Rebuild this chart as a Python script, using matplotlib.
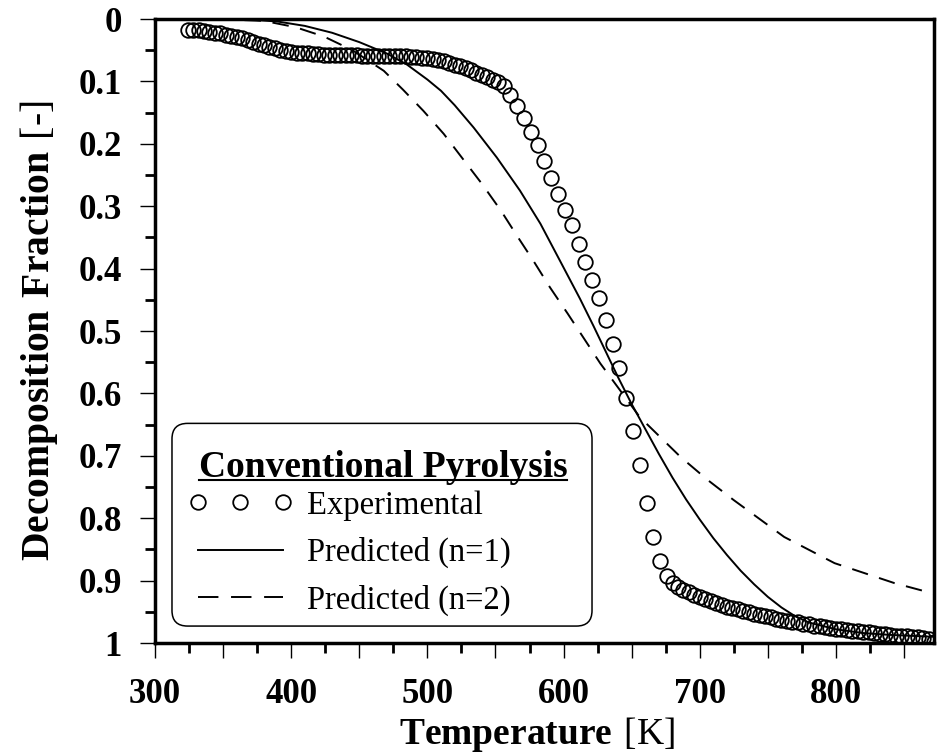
import numpy as np
import matplotlib
matplotlib.use("Agg")
import matplotlib.pyplot as plt
from matplotlib.ticker import MultipleLocator, FuncFormatter
from matplotlib.lines import Line2D
from matplotlib.patches import FancyBboxPatch
from matplotlib.legend_handler import HandlerLine2D

plt.rcParams['font.family'] = 'Liberation Serif'
plt.rcParams['mathtext.fontset'] = 'custom'
plt.rcParams['mathtext.rm'] = 'Liberation Serif'
plt.rcParams['mathtext.bf'] = 'Liberation Serif:bold'

# Experimental TGA points (temperature in K, decomposition fraction)
T_exp = [324, 328, 332, 336, 340, 344, 348, 352, 356, 360, 364, 368, 372, 376, 380,
         384, 388, 392, 396, 400, 404, 408, 412, 416, 420, 424, 428, 432, 436, 440,
         444, 448, 452, 456, 460, 464, 468, 472, 476, 480, 484, 488, 492, 496, 500,
         504, 508, 512, 516, 520, 524, 528, 532, 536, 540, 544, 548, 552,
         556, 561, 566, 571, 576, 581, 586, 591, 596, 601, 606, 611, 616, 621, 626,
         631, 636, 641, 646, 651, 656, 661, 666, 671, 676,
         680, 684, 688, 692, 696, 700, 704, 708, 712, 716, 720, 724, 728, 732, 736,
         740, 744, 748, 752, 756, 760, 764, 768, 772, 776, 780, 784, 788, 792, 796,
         800, 804, 808, 812, 816, 820, 824, 828, 832, 836, 840, 844, 848, 852, 856,
         860, 864, 868, 872]
f_exp = [0.017, 0.018, 0.018, 0.019, 0.020, 0.022, 0.023, 0.025, 0.027, 0.029, 0.031, 0.034, 0.037, 0.040, 0.042,
         0.045, 0.047, 0.049, 0.051, 0.053, 0.054, 0.055, 0.055, 0.056, 0.056, 0.057, 0.057, 0.057, 0.058, 0.058,
         0.058, 0.058, 0.059, 0.059, 0.059, 0.059, 0.059, 0.059, 0.060, 0.060, 0.060, 0.061, 0.061, 0.062, 0.063,
         0.064, 0.066, 0.068, 0.070, 0.073, 0.076, 0.079, 0.082, 0.086, 0.089, 0.093, 0.097, 0.101,
         0.108, 0.122, 0.139, 0.158, 0.181, 0.202, 0.227, 0.255, 0.281, 0.306, 0.330, 0.360, 0.390, 0.418, 0.447,
         0.482, 0.520, 0.560, 0.608, 0.660, 0.715, 0.775, 0.830, 0.868, 0.893,
         0.904, 0.910, 0.915, 0.919, 0.923, 0.927, 0.930, 0.933, 0.936, 0.939, 0.942, 0.944, 0.946, 0.949, 0.951,
         0.953, 0.955, 0.957, 0.959, 0.961, 0.963, 0.964, 0.966, 0.967, 0.969, 0.970, 0.972, 0.973, 0.975, 0.976,
         0.977, 0.978, 0.979, 0.980, 0.981, 0.982, 0.983, 0.984, 0.985, 0.986, 0.987, 0.988, 0.988, 0.989, 0.990,
         0.991, 0.992, 0.994, 0.998]

# First order model
T_n1 = [350, 370, 390, 410, 430, 450, 470, 485, 500, 510, 520, 534, 551, 568, 583, 598,
        612, 622, 631, 640, 650, 660, 670, 680, 690, 700, 710, 720, 730, 740, 750, 760,
        770, 780, 800, 820, 840, 872]
f_n1 = [0.000, 0.001, 0.004, 0.011, 0.022, 0.037, 0.055, 0.073, 0.097, 0.115, 0.138, 0.174, 0.222, 0.275,
        0.328, 0.390, 0.448, 0.492, 0.533, 0.574, 0.617, 0.657, 0.697, 0.735, 0.770, 0.802, 0.832, 0.859,
        0.884, 0.906, 0.926, 0.943, 0.957, 0.967, 0.978, 0.984, 0.987, 0.990]

# Second order model
T_n2 = [345, 380, 403, 424, 445, 468, 482, 497, 512, 526, 540, 554, 566, 578, 590, 603,
        627, 656, 686, 706, 725, 762, 799, 843, 872]
f_n2 = [0.000, 0.003, 0.013, 0.028, 0.050, 0.083, 0.113, 0.147, 0.184, 0.224, 0.264, 0.307, 0.348, 0.388,
        0.430, 0.472, 0.552, 0.638, 0.702, 0.739, 0.771, 0.830, 0.872, 0.904, 0.921]

fig = plt.figure(figsize=(9.44, 7.55), dpi=100)
ax = fig.add_axes([0.1642, 0.1483, 0.8252, 0.8265])

ax.plot(T_exp, f_exp, 'o', ms=10.5, mfc='none', mec='black', mew=1.3, label='Experimental')
ax.plot(T_n1, f_n1, '-', color='black', lw=1.4, label='Predicted (n=1)')
ax.plot(T_n2, f_n2, '--', color='black', lw=1.4, dashes=(8.5, 6), label='Predicted (n=2)')

ax.set_xlim(300, 872)
ax.set_ylim(1, 0)

ax.xaxis.set_major_locator(MultipleLocator(50))
ax.xaxis.set_minor_locator(MultipleLocator(25))
ax.xaxis.set_major_formatter(FuncFormatter(lambda v, p: f"{int(round(v))}" if round(v) % 100 == 0 else ""))
ax.yaxis.set_major_locator(MultipleLocator(0.1))
ax.yaxis.set_minor_locator(MultipleLocator(0.05))
ax.yaxis.set_major_formatter(FuncFormatter(lambda v, p: f"{round(v, 1):g}"))

ax.tick_params(which='major', direction='out', length=11, width=1, pad=13, labelsize=25)
ax.tick_params(axis='x', which='major', pad=14)
ax.tick_params(which='minor', direction='out', length=7, width=2)
for lab in ax.get_xticklabels() + ax.get_yticklabels():
    lab.set_fontweight('bold')
for sp in ax.spines.values():
    sp.set_linewidth(2.5)

ax.set_xlabel(r'$\mathbf{Temperature}\ \mathrm{[K]}$', fontsize=27)
ax.set_ylabel('$\\mathbf{Decomposition\\ Fraction}\\ \\mathrm{[\u2010]}$', fontsize=28.5)
ax.xaxis.set_label_coords(0.49, -0.116)
ax.yaxis.set_label_coords(-0.122, 0.5)

# legend: rounded frame, underlined bold heading, then the three entries
box = FancyBboxPatch((0.0218, 0.0272), 0.5392, 0.3248, transform=ax.transAxes,
                     boxstyle='round,pad=0,rounding_size=0.02', mutation_aspect=779 / 625,
                     facecolor='white', edgecolor='black', linewidth=1.1, zorder=4)
ax.add_patch(box)

title = ax.text(0.2927, 0.2656, 'Conventional Pyrolysis', transform=ax.transAxes,
                ha='center', va='baseline', fontsize=27, fontweight='bold', zorder=6)

leg = ax.legend(loc='center left', bbox_to_anchor=(0.0552, 0.144), borderaxespad=0,
                fontsize=23.5, numpoints=3, handlelength=2.6, handletextpad=0.75,
                labelspacing=0.5, borderpad=0, frameon=False,
                handler_map={Line2D: HandlerLine2D(marker_pad=0)})
leg.set_zorder(5)
leg.get_lines()[2].set_dashes((10.5, 6.5))

fig.canvas.draw()
renderer = fig.canvas.get_renderer()
bb = title.get_window_extent(renderer)
_, base = ax.transAxes.transform((0, 0.2656))
uy = base - 3
pts = fig.transFigure.inverted().transform([[bb.x0, uy], [bb.x1, uy]])
fig.add_artist(Line2D(pts[:, 0], pts[:, 1], color='black', lw=1.5, transform=fig.transFigure, zorder=6))

fig.savefig('out.png', dpi=100)
